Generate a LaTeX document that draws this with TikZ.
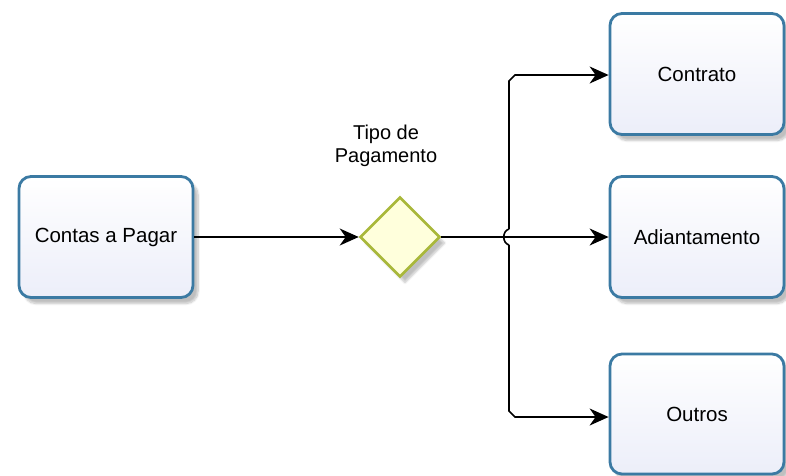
\documentclass[tikz,border=0pt]{standalone}
\usepackage{fontspec}
\setmainfont{Liberation Sans}
\usetikzlibrary{shapes.geometric,arrows.meta,shadows.blur}
\definecolor{boxborder}{HTML}{3B7AA3}
\definecolor{boxfill}{HTML}{ECEEF9}
\definecolor{gwborder}{HTML}{A9B83A}
\definecolor{gwfill}{HTML}{FFFFDC}
\tikzset{
  task/.style={rectangle, rounded corners=12pt, draw=boxborder, line width=2.8pt,
    top color=white, bottom color=boxfill, minimum width=174pt, minimum height=121pt,
    inner sep=0pt, font=\fontsize{20.5}{24}\selectfont,
    blur shadow={shadow xshift=5pt, shadow yshift=-6pt, shadow opacity=25, shadow blur steps=8}},
  gateway/.style={diamond, aspect=1, draw=gwborder, line width=2.6pt, fill=gwfill,
    minimum size=80pt, inner sep=0pt,
    blur shadow={shadow xshift=5pt, shadow yshift=-6pt, shadow opacity=25, shadow blur steps=8}},
  conn/.style={line width=1.6pt, black},
  arr/.style={conn, -{Stealth[length=19pt,width=17pt,inset=6pt]}},
  lbl/.style={font=\fontsize{20}{23}\selectfont, align=center}
}
\begin{document}
\begin{tikzpicture}[x=1pt,y=-1pt]
\useasboundingbox (0,0) rectangle (786,475);
\node[task] (cp) at (106,237) {Contas a Pagar};
\node[task] (ct) at (697,74) {Contrato};
\node[task] (ad) at (697,237) {Adiantamento};
\node[task, minimum height=120pt] (ou) at (697,414) {Outros};
\node[gateway] (gw) at (400,237) {};
\node[lbl] (gl) at (386,146) {Tipo de\\Pagamento};
\coordinate (jt) at (509,229);
\coordinate (jb) at (509,245);
\draw[arr] (cp.east) -- (gw.west);
\draw[arr] (gw.east) -- (ad.west);
\draw[conn] (jt) .. controls (502,231) and (502,243) .. (jb);
\draw[arr] (jt) -- (509,81) -- (515,75) -- (ct.west |- 0,75);
\draw[arr] (jb) -- (509,411) -- (515,417) -- (ou.west |- 0,417);
\end{tikzpicture}
\end{document}
